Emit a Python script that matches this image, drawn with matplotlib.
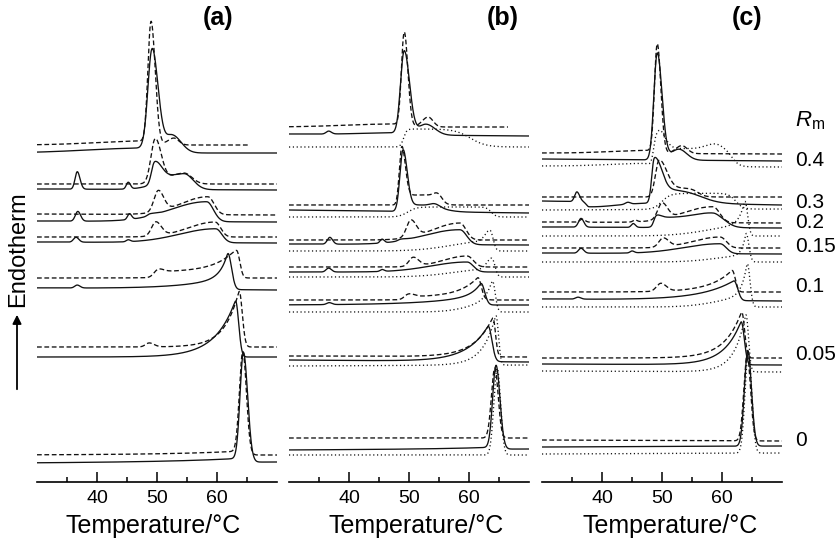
import numpy as np
import matplotlib.pyplot as plt
from matplotlib.ticker import FixedLocator

plt.rcParams["font.family"] = ["Liberation Sans", "DejaVu Sans"]
plt.rcParams["mathtext.fontset"] = "custom"
plt.rcParams["mathtext.it"] = "Liberation Sans:italic"
plt.rcParams["mathtext.rm"] = "Liberation Sans"

RM = ["0.4", "0.3", "0.2", "0.15", "0.1", "0.05", "0"]
PANELS = ["(a)", "(b)", "(c)"]

# one trace per Rm (top to bottom):
# (baseline at 30 °C, baseline at 70 °C, peaks, plateaus)   heat flow in a.u. incl. offset
# peak    = (centre °C, height, left width, right width, left shape: 1 exp / 2 gauss)
# plateau = (onset °C, end °C, height, onset width, end width)
A_SOLID = [
    (329, 329, [(48.5, 5, 10, 1.0, 2), (49.2, 101, 0.7, 1.0, 2), (52.5, 18, 1.2, 1.5, 2)], []),
    (293, 292, [(36.7, 18, 0.35, 0.45, 2), (45.2, 7, 0.3, 0.35, 2), (49.6, 22, 0.5, 1.2, 2),
                (54.5, 16, 3.5, 1.5, 2)], []),
    (261, 260, [(36.8, 10, 0.4, 0.45, 2), (45.4, 6, 0.3, 0.35, 2), (48.8, 2, 0.4, 1.0, 2),
                (58.3, 20, 6, 1.1, 2)], []),
    (240, 239, [(36.5, 5, 0.4, 0.45, 2), (45.2, 2, 0.3, 0.35, 2), (59.8, 14, 6, 1.0, 2)], []),
    (194, 192, [(36.7, 3, 0.4, 0.45, 2), (61.8, 24, 1.2, 0.6, 1), (61.8, 13, 7, 0.6, 1)], []),
    (125, 125, [(63.1, 57, 3.4, 0.5, 1)], []),
    (19, 20, [(64.4, 4, 12, 0.7, 1), (64.4, 107, 0.55, 0.7, 2)], []),
]
A_DASHED = [
    (337, 337, [(48.0, 4, 8, 1.0, 2), (49.0, 123, 0.5, 0.7, 2), (52.8, 7, 1.0, 0.8, 2)], []),
    (298, 298, [(49.7, 44, 0.7, 1.0, 2), (54.5, 11, 2.5, 1.3, 2)], []),
    (268, 267, [(50.2, 21, 0.7, 0.9, 2), (58.5, 18, 4.5, 1.0, 2)], []),
    (245, 245, [(49.8, 14, 0.7, 0.9, 2), (59.7, 15, 4.5, 0.9, 2)], []),
    (204, 204, [(50.0, 4, 0.6, 0.9, 2), (63.3, 24, 3.4, 0.5, 1)], [(49.8, 63.5, 6, 0.4, 0.3)]),
    (135, 135, [(48.7, 4, 0.6, 0.8, 2), (63.7, 57, 2.4, 0.5, 1)], []),
    (27, 27, [(64.3, 4, 12, 0.6, 1), (64.3, 101, 0.55, 0.6, 2)], []),
]
A_DASHED_TMAX = [65.5, 70, 70, 70, 70, 70, 70]

B_SOLID = [
    (348, 346, [(36.6, 3, 0.4, 0.45, 2), (48.0, 2, 6, 1.0, 2), (49.2, 84, 0.6, 0.9, 2),
                (52.8, 11, 1.2, 1.5, 2)], []),
    (272, 269, [(49.0, 62, 0.5, 0.7, 2), (54.3, 3, 0.8, 0.8, 2)], [(50.0, 55.5, 7, 0.4, 1.2)]),
    (238, 237, [(36.8, 7, 0.4, 0.45, 2), (45.5, 4, 0.3, 0.35, 2), (48.6, 1.5, 0.4, 1.0, 2),
                (58.5, 15, 6, 1.1, 2)], []),
    (210, 210, [(36.6, 4, 0.4, 0.45, 2), (45.5, 2, 0.3, 0.35, 2), (59.7, 10, 6, 1.0, 2)], []),
    (177, 177, [(36.7, 2, 0.4, 0.45, 2), (62.0, 12, 1.5, 0.6, 1), (62.0, 10, 8, 0.6, 1)], []),
    (122, 120, [(63.2, 36, 3.5, 0.6, 1)], []),
    (32, 33, [(64.5, 2, 10, 0.6, 1), (64.5, 83, 0.55, 0.65, 2)], []),
]
B_DASHED = [
    (355, 355, [(47.5, 3, 8, 1.0, 2), (49.2, 96, 0.45, 0.6, 2), (53.2, 10, 1.0, 0.8, 2)], []),
    (277, 277, [(48.8, 59, 0.4, 0.6, 2), (54.7, 3, 0.6, 0.6, 2)], [(49.6, 55.6, 10, 0.3, 0.4)]),
    (242, 242, [(50.3, 17, 0.7, 0.9, 2), (58.5, 17, 4.5, 1.0, 2)], []),
    (215, 215, [(50.7, 9, 0.7, 0.9, 2), (59.7, 11, 4, 1.0, 2)], []),
    (182, 182, [(49.8, 4, 0.6, 0.9, 2), (61.5, 20, 3.0, 0.5, 1)], [(49.8, 62.5, 3, 0.4, 0.4)]),
    (126, 125, [(64.0, 40, 3.0, 0.4, 1)], []),
    (44, 44, [(64.3, 71, 0.55, 0.55, 2)], []),
]
B_DASHED_TMAX = [66.5, 70, 70, 70, 70, 70, 70]
B_DOTTED = [
    (335, 335, [], [(49.1, 60.2, 18, 0.25, 1.3)]),
    (265, 265, [], [(49.8, 63.7, 10, 0.7, 0.4)]),
    (231, 231, [(63.5, 10, 6, 0.5, 2), (63.5, 11, 0.8, 0.5, 2)], []),
    (205, 205, [(63.8, 8, 6, 0.5, 2), (63.8, 11, 0.8, 0.5, 2)], []),
    (170, 170, [(63.9, 8, 4, 0.45, 2), (63.9, 24, 1.2, 0.45, 1)], []),
    (116, 117, [(64.5, 51, 2.1, 0.4, 1)], []),
    (27, 27, [(64.7, 88, 0.55, 0.55, 2)], []),
]

C_SOLID = [
    (323, 321, [(49.2, 108, 0.55, 0.8, 2), (52.8, 11, 1.3, 1.3, 2)], []),
    (281, 277, [(35.8, 10, 0.35, 0.45, 2), (37.8, -5, 0.4, 4.5, 2), (44.3, 2, 0.4, 0.4, 2),
                (48.7, 44, 0.4, 1.1, 2)], [(49.5, 56.5, 14, 0.4, 1.6)]),
    (255, 254, [(36.5, 9, 0.4, 0.45, 2), (45.2, 4, 0.3, 0.35, 2), (49.0, 3, 0.3, 0.8, 2),
                (58.5, 5, 3, 1.0, 2)], [(48.6, 61.0, 10, 0.2, 0.7)]),
    (229, 228, [(36.5, 5, 0.4, 0.45, 2), (45.0, 2, 0.3, 0.35, 2), (59.7, 10, 6, 1.0, 2)], []),
    (183, 181, [(36.0, 2, 0.4, 0.45, 2), (62.0, 20, 5.5, 0.6, 1)], []),
    (118, 117, [(63.2, 44, 2.8, 0.5, 1)], []),
    (35, 36, [(64.3, 97, 0.55, 0.6, 2)], []),
]
C_DASHED = [
    (329, 328, [(47.5, 3, 6, 1.0, 2), (49.2, 111, 0.45, 0.6, 2), (53.3, 8, 1.0, 0.9, 2)], []),
    (285, 285, [(49.5, 36, 0.6, 1.2, 2)], [(50.5, 56.0, 9, 0.5, 0.6)]),
    (260, 259, [(36.7, 3, 0.4, 0.45, 2), (45.5, 2, 0.3, 0.35, 2), (50.0, 16, 0.7, 0.9, 2),
                (58.5, 16, 5, 1.1, 2)], []),
    (234, 234, [(50.2, 9, 0.7, 0.9, 2), (59.7, 11, 4.5, 1.0, 2)], []),
    (190, 190, [(49.8, 8, 0.7, 0.9, 2), (61.7, 22, 3.6, 0.5, 1)], []),
    (124, 124, [(63.3, 47, 2.8, 0.45, 1)], []),
    (42, 41, [(64.2, 87, 0.55, 0.55, 2)], []),
]
C_DOTTED = [
    (316, 315, [(47.0, 3, 6, 1.0, 2), (49.0, 25, 0.4, 1.2, 2), (58.8, 5, 1.5, 1.2, 2)],
     [(49.2, 61.7, 18, 0.3, 0.6)]),
    (272, 273, [], [(50.0, 62.3, 16, 0.7, 0.6)]),
    (246, 246, [(63.8, 10, 6, 0.45, 2), (63.8, 26, 0.9, 0.45, 1)], []),
    (220, 220, [(64.0, 6, 5, 0.45, 2), (64.0, 24, 0.6, 0.45, 1)], []),
    (175, 175, [(64.2, 9, 5, 0.45, 2), (64.2, 36, 0.9, 0.45, 1)], []),
    (111, 110, [(64.0, 59, 1.9, 0.4, 1)], []),
    (28, 29, [(64.4, 102, 0.55, 0.55, 2)], []),
]

T = np.linspace(30, 70, 1601)


def trace(base0, base1, peaks, steps):
    y = base0 + (base1 - base0) * (T - 30) / 40
    for c, h, wl, wr, p in peaks:
        d = T - c
        left = np.exp(-np.abs(d) / wl) if p == 1 else np.exp(-0.5 * (d / wl) ** 2)
        y = y + h * np.where(d < 0, left, np.exp(-0.5 * (d / wr) ** 2))
    for t1, t2, h, s1, s2 in steps:
        y = y + h / (1 + np.exp(-(T - t1) / s1)) / (1 + np.exp((T - t2) / s2))
    k = np.exp(-0.5 * (np.arange(-12, 13) / 4) ** 2)
    k /= k.sum()
    return np.convolve(np.pad(y, 12, mode="edge"), k, mode="valid")


W, H = 837, 542
fig = plt.figure(figsize=(W / 100, H / 100), dpi=100)

panels = [
    (37, [("dashed", A_DASHED, A_DASHED_TMAX), ("solid", A_SOLID, None)]),
    (289, [("dotted", B_DOTTED, None), ("dashed", B_DASHED, B_DASHED_TMAX), ("solid", B_SOLID, None)]),
    (542, [("dotted", C_DOTTED, None), ("dashed", C_DASHED, None), ("solid", C_SOLID, None)]),
]
styles = {"solid": "-", "dashed": (0, (3.6, 2.0)), "dotted": (0, (0.9, 2.0))}

for left, groups in panels:
    ax = fig.add_axes([left / W, (H - 482) / H, 240 / W, 482 / H])
    for name, curves, tmax in groups:
        for i, (b0, b1, peaks, steps) in enumerate(curves):
            y = trace(b0, b1, peaks, steps)
            m = T <= (tmax[i] if tmax else 70)
            ax.plot(T[m], y[m], color="#111111", lw=0.95, ls=styles[name])
    ax.set_xlim(30, 70)
    ax.set_ylim(0, 482)
    for s in ("left", "right", "top"):
        ax.spines[s].set_visible(False)
    ax.spines["bottom"].set_linewidth(1.2)
    ax.set_yticks([])
    ax.xaxis.set_major_locator(FixedLocator([40, 50, 60]))
    ax.xaxis.set_minor_locator(FixedLocator([35, 45, 55, 65]))
    ax.tick_params(axis="x", which="major", direction="in", length=7.5, width=1.1,
                   labelsize=14, pad=6)
    ax.tick_params(axis="x", which="minor", direction="in", length=3.6, width=1.1)
    ax.patch.set_alpha(0)


def fx(px):
    return px / W


def fy(py):
    return 1 - py / H


for label, cx in zip(PANELS, [218, 503, 747]):
    fig.text(fx(cx), fy(18), label, fontsize=18, fontweight="bold", ha="center", va="center")

for cx in [153, 416, 670]:
    fig.text(fx(cx), fy(533), "Temperature/°C", fontsize=18, ha="center", va="baseline")

fig.text(fx(795), fy(121), r"$R_{\mathrm{m}}$", fontsize=16, ha="left", va="center")
for lab, py in zip(RM, [160, 203, 223, 246, 287, 354, 440]):
    fig.text(fx(795), fy(py), lab, fontsize=15, ha="left", va="center")

fig.text(fx(18), fy(249), "Endotherm", fontsize=17, rotation=90, ha="center", va="center")
fig.add_artist(plt.matplotlib.patches.FancyArrowPatch(
    (fx(17), fy(392)), (fx(17), fy(312)), transform=fig.transFigure,
    arrowstyle="-|>", mutation_scale=13, lw=1.3, color="black"))

fig.savefig("out.png", dpi=100)
